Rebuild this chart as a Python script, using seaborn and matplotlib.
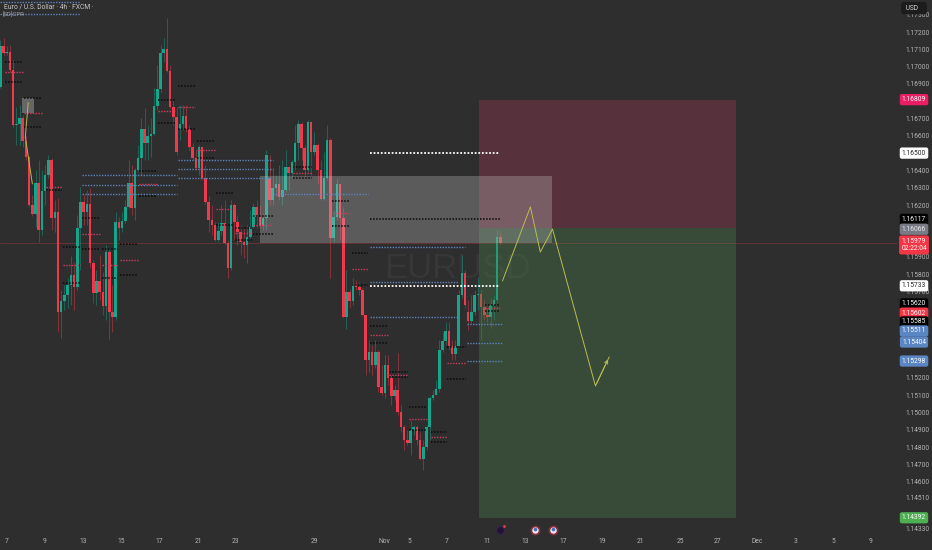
import matplotlib
matplotlib.use('Agg')
import matplotlib.pyplot as plt
from matplotlib.patches import Rectangle
import numpy as np
import pandas as pd
import seaborn as sns

# 4h candles, prices in 1e-5 units (points)
first_open = 116882
closes = [
    117119, 117079, 117084, 116980, 116662, 116668, 116703, 116570, 116478, 116200,
    116148, 116327, 116056, 116281, 116373, 116460, 116125, 116160, 115582, 115645,
    115680, 115738, 115795, 115726, 116067, 116217, 116160, 116206, 115865, 115691,
    115761, 115697, 115616, 115928, 115582, 115553, 116102, 116067, 116108, 116189,
    116327, 116183, 116402, 116472, 116639, 116558, 116599, 116610, 116772, 116871,
    117079, 117102, 116975, 116767, 116709, 116506, 116668, 116715, 116639, 116535,
    116472, 116414, 116535, 116356, 116217, 116113, 116084, 115998, 116050, 116096,
    115980, 115836, 116200, 116102, 116044, 115986, 115969, 116015, 116073, 116189,
    116131, 116079, 116125, 116489, 116229, 116298, 116321, 116246, 116287, 116420,
    116385, 116449, 116558, 116668, 116530, 116402, 116680, 116506, 116547, 116402,
    116235, 116356, 116576, 116009, 116131, 116321, 116125, 115553, 115697, 115645,
    115743, 115726, 115709, 115564, 115304, 115350, 115275, 115350, 115148, 115113,
    115275, 115200, 115096, 115131, 115004, 114917, 114842, 114824, 114900, 114917,
    114842, 114732, 114801, 114917, 115085, 115102, 115137, 115362, 115414, 115472,
    115385, 115339, 115385, 115680, 115807, 115622, 115530, 115582, 115680, 115686,
    115611, 115564, 115553, 115622, 115651, 116015, 115979]
highs = [
    117154, 117165, 117119, 117125, 117038, 116767, 116778, 116720, 116605, 116483,
    116258, 116402, 116460, 116402, 116431, 116489, 116472, 116229, 116241, 115709,
    115738, 115778, 115905, 115871, 116142, 116304, 116258, 116287, 116298, 115882,
    115824, 115911, 115813, 115969, 115952, 115738, 116160, 116131, 116160, 116229,
    116460, 116431, 116414, 116547, 116703, 116761, 116662, 116703, 116876, 117009,
    117125, 117165, 117281, 117009, 116807, 116767, 116778, 116778, 116778, 116662,
    116558, 116518, 116547, 116535, 116431, 116252, 116200, 116102, 116102, 116200,
    116229, 115998, 116229, 116212, 116142, 116084, 116067, 116084, 116171, 116212,
    116229, 116200, 116154, 116518, 116489, 116414, 116373, 116431, 116460, 116518,
    116414, 116460, 116662, 116691, 116680, 116547, 116691, 116686, 116622, 116558,
    116460, 116506, 116662, 116587, 116171, 116356, 116321, 116189, 115824, 115715,
    115778, 115767, 115755, 115720, 115564, 115420, 115391, 115420, 115362, 115275,
    115333, 115333, 115217, 115160, 115345, 115044, 114928, 114900, 114957, 114928,
    114928, 114888, 114842, 114928, 115096, 115131, 115189, 115420, 115466, 115524,
    115524, 115420, 115420, 115709, 115911, 115824, 115651, 115680, 115709, 115784,
    115709, 115651, 115605, 115663, 115680, 116056, 116044]
lows = [
    116876, 117067, 117067, 116969, 116651, 116547, 116547, 116535, 116460, 116189,
    116137, 116073, 115986, 116027, 116200, 116356, 116056, 116044, 115466, 115431,
    115593, 115605, 115622, 115593, 115709, 115824, 116084, 116084, 115836, 115634,
    115622, 115651, 115564, 115535, 115420, 115466, 115535, 115998, 116044, 116096,
    116183, 116142, 116113, 116391, 116373, 116460, 116460, 116478, 116605, 116749,
    116853, 117027, 116969, 116761, 116662, 116489, 116576, 116634, 116622, 116518,
    116460, 116402, 116373, 116345, 116206, 116044, 116027, 115992, 115986, 116027,
    115969, 115778, 115824, 115998, 115969, 115911, 115894, 115865, 115998, 116067,
    116067, 116067, 116056, 116056, 116200, 116200, 116252, 116229, 116200, 116275,
    116287, 116356, 116402, 116460, 116460, 116356, 116391, 116373, 116489, 116327,
    116229, 116229, 116345, 115778, 115986, 116113, 115998, 115547, 115483, 115605,
    115622, 115709, 115680, 115559, 115217, 115235, 115217, 115258, 115119, 115102,
    115085, 115160, 115044, 115073, 114986, 114888, 114784, 114813, 114755, 114871,
    114813, 114726, 114668, 114784, 114842, 115073, 115102, 115119, 115350, 115391,
    115362, 115304, 115304, 115374, 115663, 115605, 115478, 115518, 115564, 115593,
    115420, 115535, 115524, 115489, 115535, 115639, 115969]
# opens that do not sit on the previous close
gap_opens = {56: 116639, 84: 116356, 146: 115582}

# CPR levels: (first bar, last bar, price)
black_levels = [
    (1.5, 7.1, 1.17027), (1.5, 7.1, 1.16911), (7.4, 13, 1.16816), (7.4, 13, 1.16651),
    (14.3, 19.3, 1.16287), (19.6, 24.9, 1.15957), (19.6, 24.9, 1.15749),
    (25.5, 31, 1.16125), (25.5, 31, 1.15946), (31.7, 36.7, 1.15946), (31.7, 36.7, 1.15778),
    (37.3, 43, 1.15975), (37.3, 43, 1.15795), (43.2, 48.9, 1.16397), (43.2, 48.9, 1.16252),
    (49.2, 54.5, 1.16807), (49.2, 54.5, 1.16674), (55.4, 60.7, 1.16888), (55.4, 60.7, 1.16639),
    (61.3, 67, 1.16570), (61.3, 67, 1.16472), (67.2, 72.9, 1.16269), (67.2, 72.9, 1.16084),
    (73.2, 78.5, 1.16067), (73.2, 78.5, 1.15998), (78.8, 85, 1.16137), (78.8, 85, 1.16032),
    (91.3, 97.2, 1.16420), (91.3, 97.2, 1.16356), (103.4, 109, 1.16223), (103.4, 109, 1.16079),
    (109.6, 114.6, 1.15923), (109.6, 114.6, 1.15738), (115.3, 156, 1.16117),
    (115.3, 120.9, 1.15501), (115.3, 120.9, 1.15402), (121.2, 127.1, 1.15235), (121.2, 127.1, 1.15206),
    (127.4, 133, 1.15033), (127.4, 133, 1.14900), (134.3, 139.3, 1.14888), (134.3, 139.3, 1.14830),
    (139.3, 145.2, 1.15379), (139.3, 145.2, 1.15194), (151.1, 155.8, 1.15620), (151.1, 155.8, 1.15585),
]
red_levels = [
    (1.5, 7.1, 1.16969), (7.4, 13, 1.16732), (14.3, 19.3, 1.16304), (19.6, 24.9, 1.15853),
    (25.5, 31, 1.16032), (31.7, 36.7, 1.15853), (37.3, 43, 1.15882), (43.2, 48.9, 1.16321),
    (49.2, 54.5, 1.16743), (55.4, 60.7, 1.16767), (61.3, 67, 1.16518), (67.2, 72.9, 1.16177),
    (73.2, 78.5, 1.16038), (78.8, 85, 1.16085), (91.3, 97.2, 1.16385), (103.4, 109, 1.16154),
    (109.6, 114.6, 1.15830), (115.3, 120.9, 1.15449), (121.2, 127.1, 1.15217), (127.4, 133, 1.14963),
    (134.3, 139.3, 1.14859), (139.3, 145.2, 1.15287), (151.1, 155.8, 1.15602),
]
blue_levels = [
    (0, 25, 1.17375), (0, 25, 1.17304),
    (25.5, 55.1, 1.16373), (25.5, 55.1, 1.16316), (25.5, 55.1, 1.16264),
    (55.4, 85, 1.16460), (55.4, 85, 1.16408), (55.4, 85, 1.16356),
    (85, 114.6, 1.16264), (115.3, 145, 1.15957), (115.3, 142.7, 1.15755), (115.3, 142.7, 1.15553),
    (145.5, 156.4, 1.15511), (145.5, 156.4, 1.15404), (145.5, 156.4, 1.15298),
]
white_levels = [(115.3, 156, 1.16500), (115.3, 156, 1.15733)]

# drawn path, old and new
old_path_x = [8.7, 7.8, 8.7, 10.0]
old_path_y = [1.16788, 1.16593, 1.16795, 1.16322]
plan_x = [156.7, 165.4, 168.5, 172.3, 185.7, 190.0]
plan_y = [1.15761, 1.16189, 1.15928, 1.16061, 1.15154, 1.15322]

# long/short position boxes and the zone
target_box = (149.5, 229.6, 1.14392, 1.16066)
stop_box = (149.5, 229.6, 1.16066, 1.16809)
zone_box = (81.0, 172.3, 1.15980, 1.16368)
old_zone = (6.9, 10.6, 1.16730, 1.16818)
last_price = 1.15979

price_ticks = [1.173, 1.172, 1.171, 1.170, 1.169, 1.167, 1.166, 1.164, 1.163, 1.162, 1.159,
               1.158, 1.157, 1.152, 1.151, 1.150, 1.149, 1.148, 1.147, 1.146, 1.1451, 1.1433]
# label, price it sits at, box colour, text colour
price_tags = [
    ('1.16809', 1.16809, '#e91e63', 'white'),
    ('1.16500', 1.16500, '#ffffff', '#222222'),
    ('1.16117', 1.16117, '#000000', 'white'),
    ('1.16066', 1.16060, '#787b86', '#e8e8e8'),
    ('1.15733', 1.15733, '#ffffff', '#222222'),
    ('1.15620', 1.15628, '#000000', 'white'),
    ('1.15602', 1.15575, '#f23645', 'white'),
    ('1.15585', 1.15524, '#000000', 'white'),
    ('1.15511', 1.15472, '#5b86c4', 'white'),
    ('1.15404', 1.15408, '#5b86c4', 'white'),
    ('1.15298', 1.15298, '#5b86c4', 'white'),
    ('1.14392', 1.14392, '#4caf50', 'white'),
]
day_ticks = [2.1, 13.9, 25.8, 37.7, 49.5, 61.7, 73.5, 97.9, 119.7, 127.5, 139.4, 151.9,
             163.7, 175.6, 187.7, 199.6, 212.1, 223.9, 236.1, 248, 259.9, 271.7]
day_labels = ['7', '9', '13', '15', '17', '21', '23', '29', 'Nov', '5', '7', '11',
              '13', '17', '19', '21', '25', '27', 'Dec', '3', '5', '9']
event_bars = [155.8, 166.7, 172.6]

BG = '#2e2e2e'
TEAL = '#14a58b'
RED = '#f0394d'

sns.set_theme(style='dark', rc={'axes.facecolor': BG, 'figure.facecolor': BG})
plt.rcParams['font.family'] = ['Roboto', 'DejaVu Sans']

fig = plt.figure(figsize=(9.32, 5.5), dpi=100)
ax = fig.add_axes([0, 17 / 550, 897 / 932, 533 / 550])

# candles
df = pd.DataFrame({'close': closes, 'high': highs, 'low': lows}) / 1e5
df['open'] = df['close'].shift(1).fillna(first_open / 1e5)
for i, v in gap_opens.items():
    df.loc[i, 'open'] = v / 1e5
df['bar'] = np.arange(len(df))
df['color'] = np.where(df['close'] >= df['open'], TEAL, RED)
ax.vlines(df['bar'], df['low'], df['high'], colors=df['color'], lw=0.7, alpha=0.45, zorder=2)
ax.bar(df['bar'], (df['close'] - df['open']).abs().clip(lower=0.00003), bottom=df[['open', 'close']].min(axis=1),
       width=0.8, color=df['color'], lw=0, zorder=3)


def draw_levels(levels, color, lw):
    rows = []
    for n, (a, b, price) in enumerate(levels):
        rows.append({'level': n, 'bar': a, 'price': price})
        rows.append({'level': n, 'bar': b, 'price': price})
    sns.lineplot(data=pd.DataFrame(rows), x='bar', y='price', units='level', estimator=None,
                 color=color, lw=lw, linestyle=(0, (1, 1)), legend=False, ax=ax, zorder=7)


draw_levels(blue_levels, '#5f84bd', 1.0)
draw_levels(red_levels, '#c9405f', 1.0)
draw_levels(black_levels, '#0a0a0a', 1.1)
draw_levels(white_levels, '#ffffff', 1.3)


def box(spec, color, alpha, z):
    x0, x1, y0, y1 = spec
    ax.add_patch(Rectangle((x0, y0), x1 - x0, y1 - y0, fc=color, ec='none', alpha=alpha, zorder=z))


box(target_box, '#4c8a4f', 0.32, 5)
box(stop_box, '#a83a5a', 0.34, 5)
box(zone_box, '#d0d0d0', 0.28, 6)
box(old_zone, '#d0d0d0', 0.35, 6)

ax.axhline(last_price, color='#f23645', lw=0.5, alpha=0.4, zorder=1)

sns.lineplot(x=old_path_x, y=old_path_y, sort=False, color='#b8b84e', lw=0.7, ax=ax, zorder=8)
sns.lineplot(x=plan_x, y=plan_y, sort=False, color='#bcbc50', lw=0.7, ax=ax, zorder=8)
ax.annotate('', xy=(plan_x[-1], plan_y[-1]), xytext=(plan_x[-2], plan_y[-2]),
            arrowprops=dict(arrowstyle='->', color='#bcbc50', lw=0.7, mutation_scale=6), zorder=8)

# watermark
ax.text(142.5, 1.15835, 'EURUSD', fontsize=25, color='#373737', family='Liberation Sans',
        ha='center', va='center', zorder=1)

# event icons on the time scale
ev_y = [1.14322] * len(event_bars)
ax.scatter(event_bars[:1], ev_y[:1], s=30, color='#231230', edgecolor='#3a1f52', lw=0.8, zorder=8, clip_on=False)
ax.scatter(event_bars[1:], ev_y[1:], s=34, color='#e8e8f0', edgecolor='#8c2f3d', lw=1.2, zorder=8, clip_on=False)
ax.scatter(event_bars[1:], [v + 0.00008 for v in ev_y[1:]], s=7, color='#4a6fb5', lw=0, zorder=9, clip_on=False)
ax.scatter([event_bars[0] + 1.4], [ev_y[0] + 0.00022], s=4, color='#f23645', lw=0, zorder=9, clip_on=False)

ax.set_xlim(-0.1, 279.8)
ax.set_ylim(1.14304, 1.17385)
ax.set_xlabel('')
ax.set_ylabel('')
for s in ax.spines.values():
    s.set_visible(False)
ax.grid(False)

ax.yaxis.tick_right()
ax.set_yticks(price_ticks)
ax.set_yticklabels(['%.5f' % p for p in price_ticks])
ax.tick_params(axis='y', length=0, pad=6, labelsize=4.8, labelcolor='#b4b4b4')
ax.set_xticks(day_ticks)
ax.set_xticklabels(day_labels)
ax.tick_params(axis='x', length=0, pad=3.5, labelsize=4.9, labelcolor='#b4b4b4')

yaxis_tf = ax.get_yaxis_transform()
tag_x = 914 / 897
for label, y, fc, tc in price_tags:
    ax.text(tag_x, y, label, transform=yaxis_tf, ha='center', va='center', fontsize=4.8, color=tc, clip_on=False,
            zorder=10, bbox=dict(boxstyle='round,pad=0.32', fc=fc, ec='none'))
ax.text(tag_x, 1.15969, '1.15979\n02:22:04', transform=yaxis_tf, ha='center', va='center', fontsize=4.8,
        linespacing=1.15, color='white', clip_on=False, zorder=10,
        bbox=dict(boxstyle='round,pad=0.32', fc='#f23645', ec='none'))
ax.text(tag_x, 1.17338, ' USD    ', transform=yaxis_tf, ha='center', va='center', fontsize=4.8, color='#d8d8d8',
        clip_on=False, zorder=10, bbox=dict(boxstyle='round,pad=0.4', fc='#1c1c1c', ec='none'))

ax.text(4 / 897, 1 - 7 / 533, 'Euro / U.S. Dollar · 4h · FXCM ·', transform=ax.transAxes, fontsize=4.9,
        color='#c8c8c8', va='center', zorder=10)
ax.text(3 / 897, 1 - 15 / 533, '[SD]CPR', transform=ax.transAxes, fontsize=4.2,
        color='#a8a8a8', va='center', zorder=10)

fig.savefig('out.png', dpi=100, facecolor=BG)
